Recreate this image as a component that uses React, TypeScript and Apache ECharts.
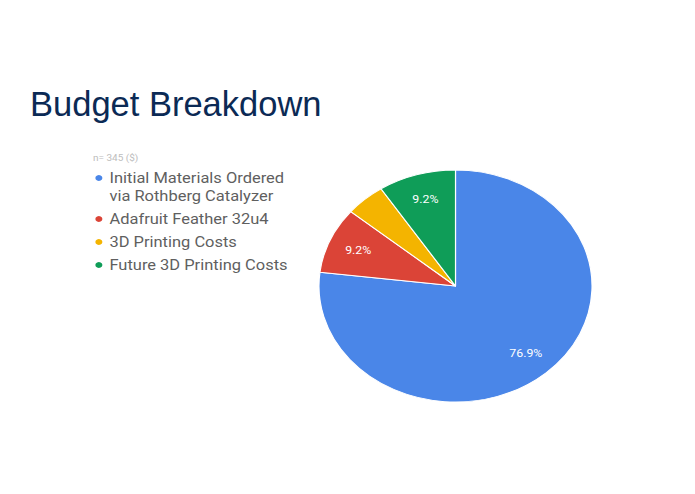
import React, { useEffect, useRef } from "react";
import * as echarts from "echarts";

const categories = [
  "Initial Materials Ordered\nvia Rothberg Catalyzer",
  "Adafruit Feather 32u4",
  "3D Printing Costs",
  "Future 3D Printing Costs",
];
const values = [265.3, 31.7, 16.3, 31.7];
const colors = ["#4a86e8", "#db4437", "#f4b400", "#0f9d58"];
const showLabel = [true, true, false, true];
const titleText = "Budget Breakdown";
const subtitleText = "n= 345 ($)";

const STRETCH = 1.177;

export default function App() {
  const chartRef = useRef<HTMLDivElement>(null);
  const titleRef = useRef<HTMLDivElement>(null);

  useEffect(() => {
    const chart = echarts.init(chartRef.current!, null, { renderer: "svg" });
    const titleChart = echarts.init(titleRef.current!, null, { renderer: "svg" });

    titleChart.setOption({
      animation: false,
      title: {
        text: titleText,
        left: 30,
        top: 86,
        padding: 0,
        textStyle: {
          fontFamily: "Liberation Sans",
          fontSize: 34.5,
          fontWeight: "normal",
          color: "#0b2a55",
        },
      },
    });

    chart.setOption({
      animation: false,
      title: {
        text: subtitleText,
        left: 79,
        top: 153,
        padding: 0,
        textStyle: {
          fontFamily: "Roboto",
          fontSize: 8.5,
          fontWeight: "normal",
          color: "#bdbdbd",
        },
      },
      legend: {
        orient: "vertical",
        left: 79,
        top: 151,
        padding: 0,
        itemGap: 5,
        itemWidth: 8,
        itemHeight: 8,
        icon: "circle",
        selectedMode: false,
        formatter: (name: string) => (name.indexOf("\n") >= 0 ? "\n" + name : name),
        textStyle: {
          fontFamily: "Roboto",
          fontSize: 14,
          color: "#5f5f5f",
          lineHeight: 18,
        },
        data: categories.map((name, i) => ({
          name,
          itemStyle: { color: colors[i] },
        })),
      },
      series: [
        {
          type: "pie",
          center: [387, 286],
          radius: 116,
          startAngle: 90,
          clockwise: true,
          silent: true,
          label: { show: false },
          labelLine: { show: false },
          itemStyle: { borderColor: "#ffffff", borderWidth: 1 },
          data: categories.map((name, i) => ({
            name,
            value: values[i],
            itemStyle: { color: colors[i] },
          })),
        },
        {
          type: "pie",
          center: [387, 286],
          radius: [74, 100],
          startAngle: 90,
          clockwise: true,
          silent: true,
          percentPrecision: 1,
          itemStyle: { color: "rgba(0,0,0,0)" },
          label: {
            show: true,
            position: "inside",
            formatter: "{d}%",
            color: "#ffffff",
            fontFamily: "Roboto",
            fontSize: 10.5,
          },
          labelLine: { show: false },
          data: categories.map((name, i) => ({
            name,
            value: values[i],
            label: { show: showLabel[i] },
          })),
        },
      ],
    });

    return () => {
      chart.dispose();
      titleChart.dispose();
    };
  }, []);

  return (
    <div
      style={{
        position: "fixed",
        left: 0,
        top: 0,
        width: 695,
        height: 494,
        background: "#ffffff",
        overflow: "hidden",
      }}
    >
      <div
        ref={chartRef}
        style={{
          position: "absolute",
          left: 0,
          top: 0,
          width: 590,
          height: 494,
          transform: `scaleX(${STRETCH})`,
          transformOrigin: "0 0",
        }}
      />
      <div
        ref={titleRef}
        style={{ position: "absolute", left: 0, top: 0, width: 695, height: 140 }}
      />
    </div>
  );
}
